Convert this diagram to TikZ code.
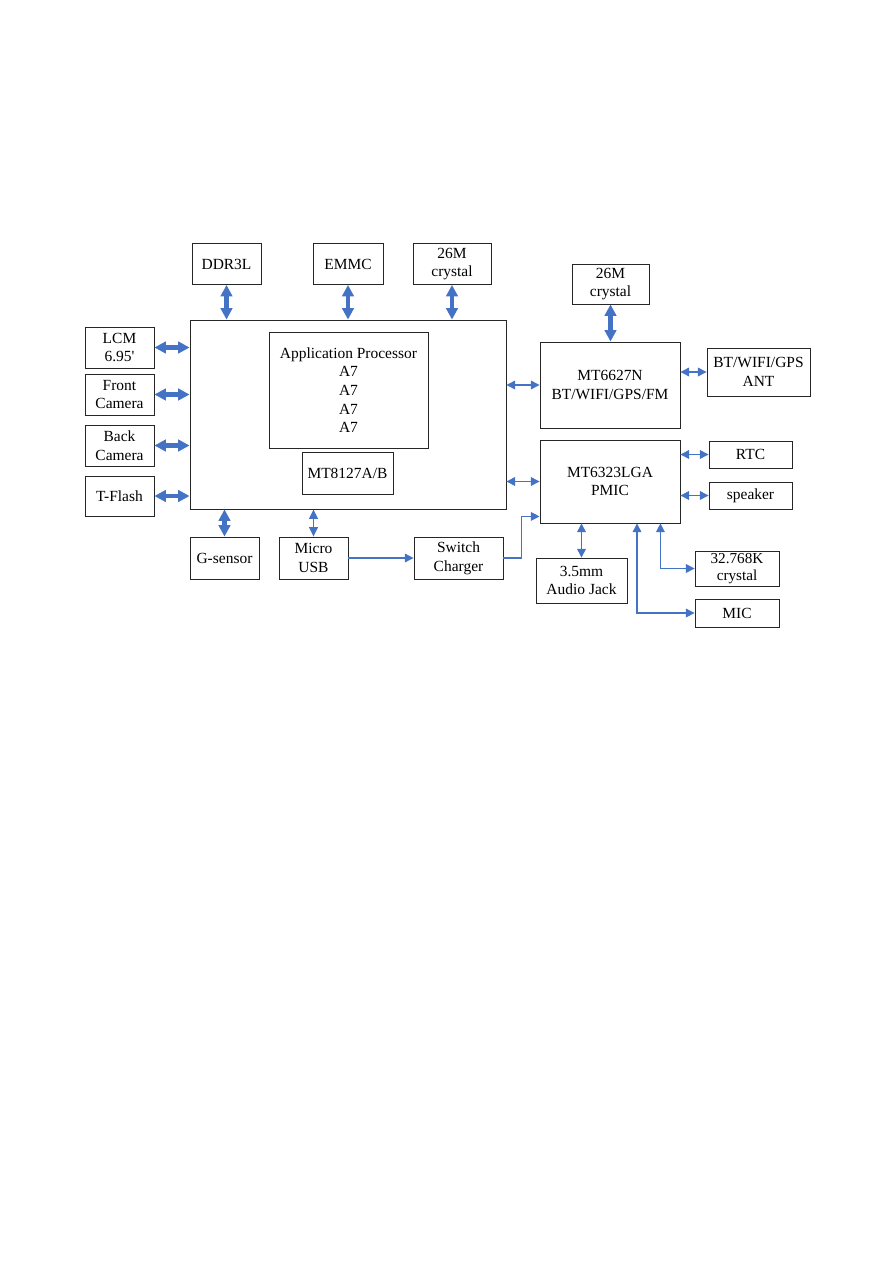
\documentclass[tikz,border=0pt]{standalone}
\usepackage{fontspec}
\setmainfont{Liberation Serif}
\usetikzlibrary{arrows.meta,calc}
\definecolor{lnk}{HTML}{4472C4}

\begin{document}
\begin{tikzpicture}[x=0.75pt,y=-0.75pt,line width=0.65pt,
  blk/.style={draw=black!85,align=center,inner sep=0pt,font=\fontsize{11.6}{14}\selectfont},
  sz/.style 2 args={minimum width=#1*0.75pt,minimum height=#2*0.75pt},
  fatlink/.style={lnk,line width=3.6pt,{Triangle[length=8.5pt,width=8.5pt]}-{Triangle[length=8.5pt,width=8.5pt]}},
  midlink/.style={lnk,line width=1pt,{Triangle[length=7pt,width=6.5pt]}-{Triangle[length=7pt,width=6.5pt]}},
  thinlink/.style={lnk,line width=0.9pt,{Triangle[length=6.5pt,width=6.5pt]}-{Triangle[length=6.5pt,width=6.5pt]}},
  feed/.style={lnk,line width=0.8pt,-{Triangle[length=6.5pt,width=6.5pt]}}]
  \useasboundingbox (0,0) rectangle (893,1263);
  % application processor
  \node[blk,sz={316}{189}] (soc) at (348,414.5) {};
  \node[blk,sz={159}{116}] (ap) at (348.5,390) {Application Processor\\A7\\A7\\A7\\A7};
  \node[blk,sz={91}{42}] (mt8127) at (347.5,473) {MT8127A/B};
  % memories and clock on top
  \node[blk,sz={69}{41}] (ddr) at (226.5,264) {DDR3L};
  \node[blk,sz={70}{41}] (emmc) at (348,264) {EMMC};
  \node[blk,sz={78}{41}] (xtalA) at (452,264) {26M\\crystal};
  % peripherals on the left
  \node[blk,sz={69}{41}] (lcm) at (119.5,347.5) {LCM\\6.95\textquotesingle};
  \node[blk,sz={69}{41}] (front) at (119.5,394.5) {Front\\Camera};
  \node[blk,sz={69}{41}] (back) at (119.5,445.5) {Back\\Camera};
  \node[blk,sz={69}{40}] (tflash) at (119.5,496) {T-Flash};
  % below
  \node[blk,sz={69}{42}] (gsen) at (224.5,558) {G-sensor};
  \node[blk,sz={69}{42}] (usb) at (313.5,558) {Micro\\USB};
  \node[blk,sz={89}{42}] (charger) at (458.5,558) {Switch\\Charger};
  % connectivity chip
  \node[blk,sz={77}{40}] (xtalB) at (610.5,284) {26M\\crystal};
  \node[blk,sz={140}{86}] (mt6627) at (610,385) {MT6627N\\BT/WIFI/GPS/FM};
  \node[blk,sz={103}{48}] (ant) at (758.5,372) {BT/WIFI/GPS\\ANT};
  % power management
  \node[blk,sz={140}{83}] (pmic) at (610,481.5) {MT6323LGA\\PMIC};
  \node[blk,sz={83}{27}] (rtc) at (750.5,454.5) {RTC};
  \node[blk,sz={83}{27}] (spk) at (750.5,495.5) {speaker};
  \node[blk,sz={91}{45}] (jack) at (581.5,580.5) {3.5mm\\Audio Jack};
  \node[blk,sz={84}{35},font=\fontsize{11.4}{13}\selectfont] (xtalC) at (737,568.5) {32.768K\\crystal};
  \node[blk,sz={84}{28}] (mic) at (737,613) {MIC};

  % buses of the processor
  \draw[fatlink] (ddr.south) -- (ddr.south |- soc.north);
  \draw[fatlink] (emmc.south) -- (emmc.south |- soc.north);
  \draw[fatlink] (xtalA.south) -- (xtalA.south |- soc.north);
  \draw[fatlink] (lcm.east) -- (lcm.east -| soc.west);
  \draw[fatlink] (front.east) -- (front.east -| soc.west);
  \draw[fatlink] (back.east) -- (back.east -| soc.west);
  \draw[fatlink] (tflash.east) -- (tflash.east -| soc.west);
  \draw[fatlink] (gsen.north) -- (gsen.north |- soc.south);
  \draw[midlink] (usb.north) -- (usb.north |- soc.south);
  \draw[fatlink] (xtalB.south) -- (xtalB.south |- mt6627.north);
  % thin links
  \draw[thinlink] (soc.east |- mt6627.west) -- (mt6627.west);
  \draw[thinlink] (soc.east |- pmic.west) -- (pmic.west);
  \draw[thinlink] (mt6627.east |- ant.west) -- (ant.west);
  \draw[thinlink] (pmic.east |- rtc.west) -- (rtc.west);
  \draw[thinlink] (pmic.east |- spk.west) -- (spk.west);
  \draw[thinlink] (jack.north) -- (jack.north |- pmic.south);
  \draw[thinlink] ($(pmic.south east)+(-20,0)$) |- (xtalC.west);
  \draw[thinlink] ($(pmic.south)+(27,0)$) |- (mic.west);
  % charging path
  \draw[feed] (usb.east) -- (charger.west);
  \draw[feed] (charger.east) -- ++(18,0) |- ($(pmic.south west)+(0,-7)$);
\end{tikzpicture}
\end{document}
